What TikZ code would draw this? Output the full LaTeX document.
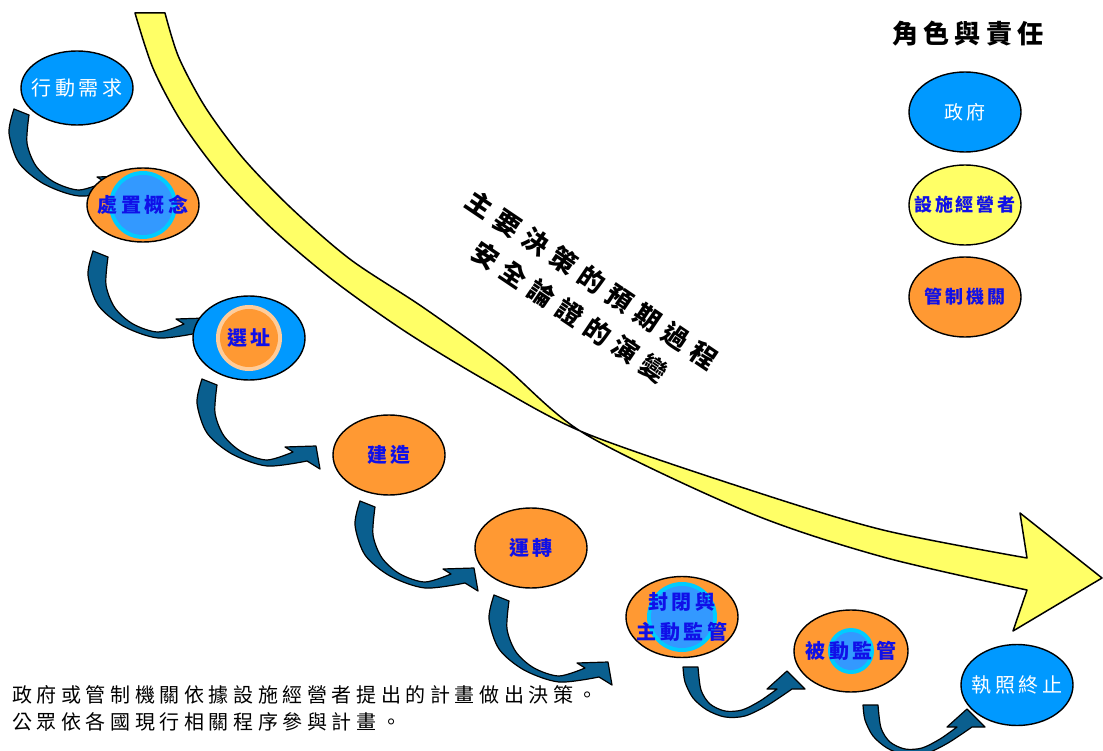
\documentclass[tikz,border=0pt]{standalone}
\usepackage{fontspec}
\usetikzlibrary{shapes.geometric}
\newfontfamily\cjk{Noto Sans CJK TC}
\definecolor{gblue}{HTML}{0099FF}
\definecolor{gorange}{HTML}{FF9933}
\definecolor{gyellow}{HTML}{FFFF66}
\definecolor{ringcyan}{HTML}{00CCFF}
\definecolor{coreblue}{HTML}{3399FF}
\definecolor{ringpeach}{HTML}{FFCC99}
\definecolor{txtblue}{HTML}{1010E8}
\definecolor{arrowblue}{HTML}{0A5F8F}
\tikzset{
  stage/.style={ellipse, draw=black, line width=1.4pt, minimum width=112pt, minimum height=80pt, inner sep=0pt},
  bluetxt/.style={text=txtblue, inner sep=0pt, align=center,
     font=\cjk\bfseries\fontsize{20}{30}\selectfont\addfontfeature{LetterSpace=18}},
  whitetxt/.style={text=white, inner sep=0pt,
     font=\cjk\fontsize{20}{30}\selectfont\addfontfeature{LetterSpace=18}},
  legblue/.style={text=txtblue, inner sep=0pt,
     font=\cjk\bfseries\fontsize{18}{24}\selectfont\addfontfeature{LetterSpace=16}},
  legwhite/.style={text=white, inner sep=0pt,
     font=\cjk\fontsize{19}{24}\selectfont\addfontfeature{LetterSpace=20}},
  notetxt/.style={anchor=west, inner sep=0pt,
     font=\cjk\fontsize{20}{27}\selectfont\addfontfeature{LetterSpace=23}},
  bandarrow/.style={fill=arrowblue, draw=black, line width=1.2pt, line join=round},
  tallarrow/.pic={
    \filldraw[bandarrow] plot[smooth] coordinates {(5,1) (0,25) (10,55) (35,76) (70,88) (110,83)}
      -- (123,91) -- (119,68) -- (88,69) -- (96,74)
      -- plot[smooth] coordinates {(96,74) (70,82) (45,74) (27,58) (18,35) (20,7)} -- cycle;},
  flatarrow/.pic={
    \filldraw[bandarrow] plot[smooth] coordinates {(3,2) (5,17) (13,33) (27,45) (45,52) (65,51) (88,40) (112,24)}
      -- (125,24) -- (107,6) -- (87,24) -- (97,24)
      -- plot[smooth] coordinates {(97,24) (80,36) (62,45) (45,46) (30,39) (21,25) (18,2)} -- cycle;}
}
\begin{document}
\begin{tikzpicture}[x=1pt, y=-1pt]
\useasboundingbox (0,0) rectangle (1103,751);
\fill[white] (0,0) rectangle (1103,751);

% big yellow twisted arrow
\filldraw[fill=gyellow, draw=black, line width=1.5pt, line join=round]
  plot[smooth] coordinates {(135,13) (153,68.2) (181.9,122.5) (221.7,176.2) (272.5,229) (334.2,281.1)
      (406.8,332.5) (490.5,383.1) (585,433) (750,490) (883,530) (1027,558)}
  -- (1020,513) -- (1102,578) -- (1013,631) -- (1027,590)
  -- plot[smooth] coordinates {(1027,590) (883,557) (750,513) (585,434) (501.3,363.9) (423.2,307.4)
      (350.7,259.7) (291.6,208.5) (243,158.1) (205.5,107.5) (178.7,57.2) (165,13)}
  -- cycle;

% curved step arrows
\begin{scope}[shift={(9,108)}, xscale=0.6, yscale=1.33] \pic {tallarrow}; \end{scope}
\begin{scope}[shift={(88,250)}, xscale=0.8, yscale=1.14] \pic {tallarrow}; \end{scope}
\begin{scope}[shift={(197,378)}, xscale=1.02, yscale=1.05] \pic {tallarrow}; \end{scope}
\begin{scope}[shift={(355,500)}] \pic {tallarrow}; \end{scope}
\begin{scope}[shift={(489,594)}, xscale=1.14, yscale=0.6] \pic {tallarrow}; \end{scope}
\begin{scope}[shift={(680,665)}] \pic {flatarrow}; \end{scope}
\begin{scope}[shift={(860,703)}, xscale=0.9, yscale=0.85] \pic {flatarrow}; \end{scope}

% stages
\node[stage, fill=gblue, minimum height=74pt] (n1) at (77,88) {};
\node[whitetxt] (n1t) at (n1) {行動需求};

\node[stage, fill=gorange, minimum height=74pt,
      path picture={\fill[ringcyan] (path picture bounding box.center) circle (34pt);
                    \fill[coreblue] (path picture bounding box.center) circle (30pt);}] (n2) at (143,205) {};
\node[bluetxt] (n2t) at (n2) {處置概念};

\node[stage, fill=gblue, minimum height=84pt,
      path picture={\fill[ringpeach] (path picture bounding box.center) circle (33pt);
                    \fill[gorange] (path picture bounding box.center) circle (29pt);}] (n3) at (249,338) {};
\node[bluetxt] (n3t) at (n3) {選址};

\node[stage, fill=gorange] (n4) at (389,455) {};
\node[bluetxt] (n4t) at (n4) {建造};

\node[stage, fill=gorange] (n5) at (531,548) {};
\node[bluetxt] (n5t) at (n5) {運轉};

\node[stage, fill=gorange, minimum height=81pt,
      path picture={\fill[ringcyan] (path picture bounding box.center) circle (35pt);
                    \fill[coreblue] (path picture bounding box.center) circle (31pt);}] (n6) at (682,617) {};
\node[bluetxt] (n6t) at (n6) {封閉與\\主動監管};

\node[stage, fill=gorange, minimum width=114pt, minimum height=82pt,
      path picture={\fill[ringcyan] (path picture bounding box.center) circle (23pt);
                    \fill[coreblue] (path picture bounding box.center) circle (19pt);}] (n7) at (851,651) {};
\node[bluetxt] (n7t) at (n7) {被動監管};

\node[stage, fill=gblue, minimum height=81pt] (n8) at (1017,685) {};
\node[whitetxt] (n8t) at (n8) {執照終止};

% diagonal caption
\node[rotate=-34, align=center, inner sep=0pt,
      font=\cjk\bfseries\fontsize{26}{39}\selectfont\addfontfeature{LetterSpace=30}] (diag) at (581,296)
      {主要決策的預期過程\\安全論證的演變};

% legend
\node[inner sep=0pt, font=\cjk\bfseries\fontsize{26}{30}\selectfont\addfontfeature{LetterSpace=21}] (title) at (968,34) {角色與責任};
\node[stage, fill=gblue] (lg1) at (965,112) {};
\node[legwhite] (lg1t) at (lg1) {政府};
\node[stage, fill=gyellow] (lg2) at (965,205) {};
\node[legblue] (lg2t) at (lg2) {設施經營者};
\node[stage, fill=gorange] (lg3) at (965,297) {};
\node[legblue] (lg3t) at (lg3) {管制機關};

% footnote
\node[notetxt] (note1) at (12,695) {政府或管制機關依據設施經營者提出的計畫做出決策。};
\node[notetxt] (note2) at (12,722) {公眾依各國現行相關程序參與計畫。};
\end{tikzpicture}
\end{document}
